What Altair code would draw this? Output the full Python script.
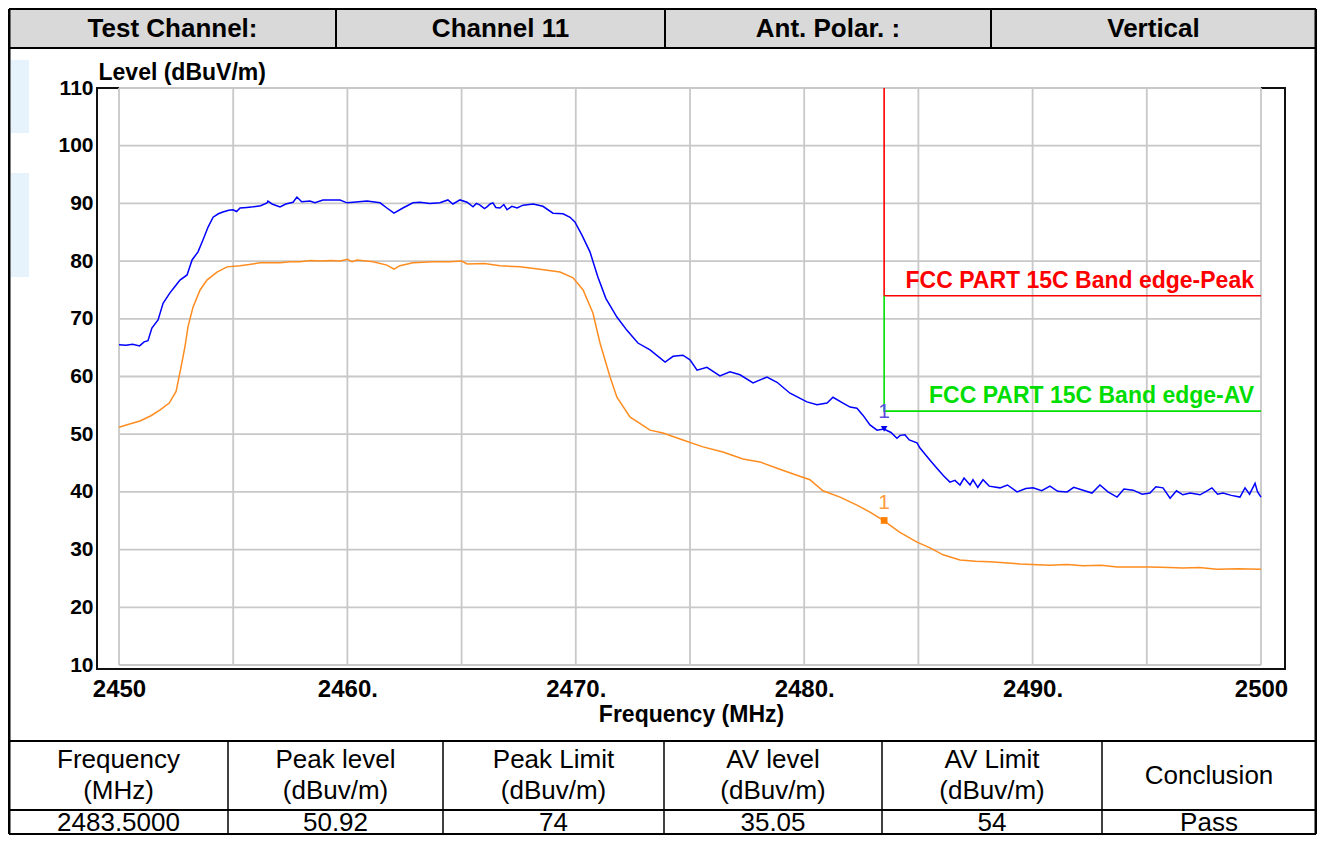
import altair as alt
import pandas as pd

# ---------------- data ----------------
peak_freq = [2450.00, 2450.30, 2450.60, 2450.90, 2451.10, 2451.27, 2451.44, 2451.71, 2451.93, 2452.23,
             2452.45, 2452.67, 2452.98, 2453.20, 2453.46, 2453.68, 2453.90, 2454.12, 2454.35, 2454.55,
             2454.80, 2454.99, 2455.15, 2455.30, 2455.60, 2455.87, 2456.20, 2456.48, 2456.52, 2456.70,
             2457.05, 2457.30, 2457.62, 2457.79, 2458.00, 2458.36, 2458.58, 2458.93, 2459.30, 2459.68,
             2459.98, 2460.25, 2460.86, 2461.43, 2461.73, 2462.04, 2462.43, 2462.87, 2463.18, 2463.60,
             2464.05, 2464.40, 2464.62, 2464.93, 2465.24, 2465.50, 2465.65, 2465.81, 2466.00, 2466.11,
             2466.25, 2466.37, 2466.50, 2466.68, 2466.85, 2466.99, 2467.20, 2467.43, 2467.69, 2468.13,
             2468.56, 2469.00, 2469.44, 2469.75, 2469.96, 2470.27, 2470.62, 2470.97, 2471.32, 2471.80,
             2472.24, 2472.72, 2473.25, 2473.91, 2474.26, 2474.69, 2475.00, 2475.31, 2475.74, 2476.31,
             2476.75, 2477.19, 2477.76, 2478.37, 2478.81, 2479.38, 2480.12, 2480.56, 2481.00, 2481.26,
             2481.70, 2482.01, 2482.31, 2482.57, 2482.88, 2483.19, 2483.49, 2483.80, 2484.06, 2484.20,
             2484.41, 2484.60, 2484.94, 2485.07, 2485.51, 2485.81, 2486.10, 2486.38, 2486.60, 2486.82,
             2487.00, 2487.26, 2487.39, 2487.60, 2487.83, 2488.10, 2488.57, 2488.90, 2489.32, 2489.70,
             2490.02, 2490.40, 2490.76, 2491.10, 2491.51, 2491.80, 2492.21, 2492.60, 2492.95, 2493.30,
             2493.70, 2494.00, 2494.40, 2494.80, 2495.14, 2495.40, 2495.71, 2496.02, 2496.30, 2496.58,
             2496.90, 2497.33, 2497.60, 2497.85, 2498.10, 2498.34, 2498.70, 2499.08, 2499.30, 2499.50,
             2499.74, 2499.85, 2500.00]
peak_level = [65.5, 65.4, 65.6, 65.3, 66.0, 66.2, 68.4, 69.8, 72.7, 74.5,
              75.6, 76.7, 77.6, 80.2, 81.6, 83.7, 85.9, 87.6, 88.2, 88.5,
              88.8, 88.9, 88.6, 89.2, 89.3, 89.4, 89.6, 90.1, 90.4, 89.9,
              89.4, 89.9, 90.2, 91.1, 90.3, 90.4, 90.1, 90.6, 90.6, 90.6,
              90.1, 90.2, 90.4, 90.1, 89.2, 88.3, 89.2, 90.1, 90.2, 90.0,
              90.1, 90.6, 89.9, 90.6, 90.2, 89.4, 90.0, 89.7, 89.1, 89.4,
              89.9, 90.1, 89.3, 89.2, 89.8, 88.9, 89.5, 89.2, 89.7, 89.9,
              89.5, 88.3, 88.2, 87.6, 86.8, 84.5, 81.6, 77.2, 73.5, 70.3,
              68.0, 65.8, 64.6, 62.5, 63.5, 63.7, 62.9, 61.1, 61.6, 60.1,
              60.8, 60.3, 58.9, 59.9, 59.0, 57.1, 55.6, 55.1, 55.4, 56.4,
              55.4, 54.7, 54.5, 53.3, 51.6, 50.7, 50.9, 50.3, 49.3, 49.8,
              49.9, 49.0, 48.5, 47.6, 45.5, 44.1, 42.8, 41.7, 42.0, 41.2,
              42.4, 41.2, 42.1, 40.8, 42.1, 41.0, 40.7, 41.2, 40.0, 40.6,
              40.7, 40.2, 41.0, 40.1, 40.0, 40.8, 40.3, 39.8, 41.2, 40.0,
              39.1, 40.5, 40.3, 39.6, 39.8, 40.9, 40.7, 38.9, 40.2, 39.5,
              39.8, 39.5, 40.1, 40.7, 39.6, 39.8, 39.4, 39.1, 40.7, 39.6,
              41.5, 40.0, 39.1]

av_freq = [2450.00, 2450.50, 2450.92, 2451.40, 2451.80, 2452.20, 2452.50, 2452.71, 2452.89, 2453.02,
           2453.24, 2453.55, 2453.85, 2454.29, 2454.73, 2455.30, 2455.70, 2456.17, 2457.05, 2457.50,
           2457.92, 2458.40, 2458.80, 2459.30, 2459.68, 2460.00, 2460.20, 2460.42, 2461.12, 2461.73,
           2462.04, 2462.30, 2462.87, 2463.75, 2464.49, 2465.00, 2465.24, 2466.00, 2466.68, 2467.56,
           2468.43, 2469.31, 2469.88, 2470.32, 2470.75, 2471.06, 2471.50, 2471.80, 2472.37, 2473.25,
           2473.82, 2474.69, 2475.57, 2476.44, 2477.32, 2478.06, 2478.81, 2479.68, 2480.25, 2480.82,
           2481.57, 2482.31, 2482.88, 2483.45, 2484.19, 2484.94, 2485.51, 2486.08, 2486.82, 2487.50,
           2488.13, 2489.45, 2490.76, 2491.50, 2492.21, 2493.00, 2493.70, 2495.14, 2496.00, 2496.58,
           2497.30, 2498.07, 2499.00, 2500.00]
av_level = [51.2, 51.8, 52.3, 53.2, 54.2, 55.4, 57.4, 61.5, 65.2, 68.6,
            72.0, 75.0, 76.7, 78.1, 79.0, 79.2, 79.4, 79.7, 79.7, 79.9,
            79.9, 80.1, 80.0, 80.1, 80.0, 80.3, 79.9, 80.2, 79.9, 79.3,
            78.6, 79.2, 79.7, 79.9, 79.9, 80.0, 79.5, 79.6, 79.2, 79.0,
            78.6, 78.1, 77.1, 75.0, 71.0, 65.8, 59.9, 56.4, 53.0, 50.7,
            50.2, 49.0, 47.8, 46.9, 45.7, 45.2, 44.1, 42.9, 42.1, 40.2,
            39.1, 37.7, 36.5, 35.1, 33.0, 31.3, 30.3, 29.1, 28.2, 28.0,
            27.9, 27.5, 27.3, 27.4, 27.2, 27.3, 27.0, 27.0, 26.9, 26.8,
            26.9, 26.6, 26.7, 26.6]

band_edge = 2483.5
band_stop = 2500
peak_limit = 74
av_limit = 54
level_top = 110
marker_freq = 2483.5
marker_peak = 50.92
marker_av = 35.05

x_ticks = [2450, 2460, 2470, 2480, 2490, 2500]
y_ticks = [10, 20, 30, 40, 50, 60, 70, 80, 90, 100, 110]
grid_x = [2450, 2455, 2460, 2465, 2470, 2475, 2480, 2485, 2490, 2495, 2500]
grid_y = y_ticks

peak_limit_label = "FCC PART 15C Band edge-Peak"
av_limit_label = "FCC PART 15C Band edge-AV"

header_cells = ["Test Channel:", "Channel 11", "Ant. Polar. :", "Vertical"]
table_head = [["Frequency", "(MHz)"], ["Peak level", "(dBuv/m)"], ["Peak Limit", "(dBuv/m)"],
              ["AV level", "(dBuv/m)"], ["AV Limit", "(dBuv/m)"], ["Conclusion"]]
table_row = ["2483.5000", "50.92", "74", "35.05", "54", "Pass"]

# ---------------- layout (pixels, relative to plot origin) ----------------
W, H = 1188, 581
X_DOM = [2449.037, 2501.051]
Y_DOM = [9.307, 110]
FONT = "Arial, 'Liberation Sans', sans-serif"

LEFT, RIGHT = -88, 1219
TOP, HEAD_BOTTOM = -79, -40
TAB_TOP, TAB_MID, TAB_BOTTOM = 653, 722, 746
head_edges = [LEFT, 239, 568, 894, RIGHT]
tab_edges = [LEFT, 131, 346, 567, 785, 1005, RIGHT]
watermark_boxes = [(-86, -68, -28, 45), (-86, -68, 85, 189)]

xs = alt.Scale(domain=X_DOM, nice=False, zero=False)
ys = alt.Scale(domain=Y_DOM, nice=False, zero=False)

x_axis = alt.Axis(values=x_ticks, format="d",
                  labelExpr="(datum.value == 2450 || datum.value == 2500) ? datum.label : datum.label + '.'",
                  labelFont=FONT, labelFontSize=24, labelFontWeight="bold", labelColor="black",
                  labelPadding=8, ticks=False, domain=False, grid=False, labelFlush=False,
                  labelOverlap=False,
                  title="Frequency (MHz)", titleFont=FONT, titleFontSize=23, titleFontWeight="bold",
                  titleColor="black", titlePadding=2)
y_axis = alt.Axis(values=y_ticks, format="d",
                  labelFont=FONT, labelFontSize=21, labelFontWeight="bold", labelColor="black",
                  labelPadding=4, ticks=False, domain=False, grid=False, labelFlush=False,
                  labelOverlap=False,
                  title="Level (dBuV/m)", titleFont=FONT, titleFontSize=23, titleFontWeight="bold",
                  titleColor="black", titleAngle=0, titleAlign="left", titleBaseline="middle",
                  titleX=1, titleY=-16)


def X(field):
    return alt.X(field, scale=xs, axis=x_axis)


def Y(field):
    return alt.Y(field, scale=ys, axis=y_axis)


one = pd.DataFrame({"a": [0]})


def rule(x1, x2, y1, y2, color="black", w=2):
    return alt.Chart(one).mark_rule(color=color, strokeWidth=w).encode(
        x=alt.value(x1), x2=alt.value(x2), y=alt.value(y1), y2=alt.value(y2))


def box(x1, x2, y1, y2, color):
    return alt.Chart(one).mark_rect(color=color).encode(
        x=alt.value(x1), x2=alt.value(x2), y=alt.value(y1), y2=alt.value(y2))


def label(txt, x, y, size=21, weight="normal", color="black"):
    return alt.Chart(one).mark_text(font=FONT, fontSize=size, fontWeight=weight, color=color,
                                    align="center", baseline="middle").encode(
        x=alt.value(x), y=alt.value(y), text=alt.value(txt))


layers = [box(*b, "#e6f3fc") for b in watermark_boxes]

# ---------------- plot layers ----------------
vgrid = pd.DataFrame({"f": grid_x, "lv": [grid_y[0]] * len(grid_x), "hi": [grid_y[-1]] * len(grid_x)})
hgrid = pd.DataFrame({"lv": grid_y, "f": [grid_x[0]] * len(grid_y), "f1": [grid_x[-1]] * len(grid_y)})

vg = alt.Chart(vgrid).mark_rule(color="#c8c8c8", strokeWidth=1.8).encode(
    x=X("f:Q"), y=Y("lv:Q"), y2="hi:Q")
hg = alt.Chart(hgrid).mark_rule(color="#c8c8c8", strokeWidth=1.8).encode(
    x=X("f:Q"), x2="f1:Q", y=Y("lv:Q"))

peak_df = pd.DataFrame({"f": peak_freq, "lv": peak_level})
av_df = pd.DataFrame({"f": av_freq, "lv": av_level})

peak_line = alt.Chart(peak_df).mark_line(color="#0000ff", strokeWidth=1.5).encode(
    x=X("f:Q"), y=Y("lv:Q"))
av_line = alt.Chart(av_df).mark_line(color="#ff8c1f", strokeWidth=1.5).encode(
    x=X("f:Q"), y=Y("lv:Q"))

red_df = pd.DataFrame({"f": [band_edge, band_edge, band_stop], "lv": [level_top, peak_limit, peak_limit], "o": [0, 1, 2]})
green_df = pd.DataFrame({"f": [band_edge, band_edge, band_stop], "lv": [peak_limit, av_limit, av_limit], "o": [0, 1, 2]})
red_line = alt.Chart(red_df).mark_line(color="#ff0000", strokeWidth=1.6).encode(
    x=X("f:Q"), y=Y("lv:Q"), order="o:Q")
green_line = alt.Chart(green_df).mark_line(color="#00e000", strokeWidth=1.6).encode(
    x=X("f:Q"), y=Y("lv:Q"), order="o:Q")

lim_txt = pd.DataFrame({"f": [band_stop, band_stop], "lv": [peak_limit, av_limit],
                        "t": [peak_limit_label, av_limit_label], "c": ["#ff0000", "#00dd00"]})
lim_text = alt.Chart(lim_txt).mark_text(font=FONT, fontSize=23, fontWeight="bold", align="right",
                                        baseline="bottom", dx=-7, dy=-3).encode(
    x=X("f:Q"), y=Y("lv:Q"), text="t:N", color=alt.Color("c:N", scale=None))

mk = pd.DataFrame({"f": [marker_freq, marker_freq], "lv": [marker_peak, marker_av],
                   "s": ["triangle-down", "square"], "c": ["#0000ee", "#ff8000"],
                   "tc": ["#5b4fe0", "#ff9a40"], "t": ["1", "1"]})
mk_pts = alt.Chart(mk).mark_point(filled=True, size=45, opacity=1).encode(
    x=X("f:Q"), y=Y("lv:Q"),
    shape=alt.Shape("s:N", scale=None), color=alt.Color("c:N", scale=None))
mk_txt = alt.Chart(mk).mark_text(font=FONT, fontSize=21, dy=-17, baseline="middle").encode(
    x=X("f:Q"), y=Y("lv:Q"), text="t:N", color=alt.Color("tc:N", scale=None))

layers += [vg, hg, peak_line, av_line, red_line, green_line, lim_text, mk_pts, mk_txt]

# ---------------- tables ----------------
layers.append(box(LEFT, RIGHT, TOP, HEAD_BOTTOM, "#d9d9d9"))
for i, txt in enumerate(header_cells):
    cx = (head_edges[i] + head_edges[i + 1]) / 2
    layers.append(label(txt, cx, -59, size=26, weight="bold"))
for e in head_edges[1:-1]:
    layers.append(rule(e, e, TOP, HEAD_BOTTOM, w=2))

for i, lines in enumerate(table_head):
    cx = (tab_edges[i] + tab_edges[i + 1]) / 2
    if len(lines) == 2:
        layers.append(label(lines[0], cx, 672, size=26))
        layers.append(label(lines[1], cx, 703, size=26))
    else:
        layers.append(label(lines[0], cx, 688, size=26))
    layers.append(label(table_row[i], cx, 735, size=26))
for e in tab_edges[1:-1]:
    layers.append(rule(e, e, TAB_TOP, TAB_BOTTOM, w=1.5))

for y in [TOP, HEAD_BOTTOM, TAB_TOP, TAB_MID, TAB_BOTTOM]:
    layers.append(rule(LEFT, RIGHT, y, y, w=2))
layers.append(rule(LEFT, LEFT, TOP, TAB_BOTTOM, w=3))
layers.append(rule(RIGHT, RIGHT, TOP, TAB_BOTTOM, w=3))

chart = alt.layer(*layers).properties(
    width=W, height=H,
    autosize=alt.AutoSizeParams(type="none"),
    padding={"left": 89, "top": 80, "right": 32, "bottom": 167},
    background="white",
).configure_view(stroke="#111111", strokeWidth=2)

chart.save("out.html", embed_options={"renderer": "svg", "actions": False})
